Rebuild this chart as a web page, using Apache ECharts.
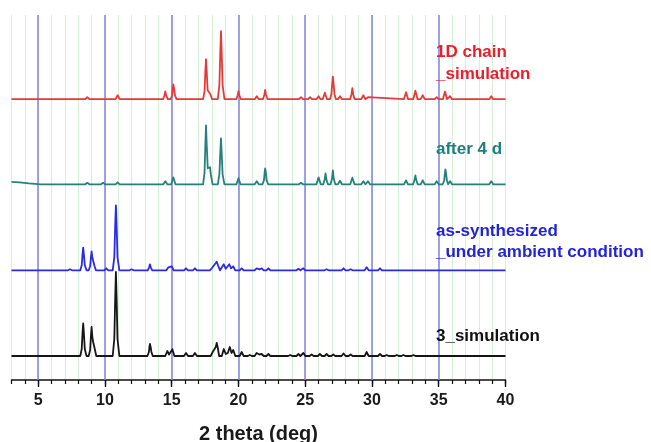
<!DOCTYPE html>
<html><head><meta charset="utf-8">
<script src="https://cdn.jsdelivr.net/npm/echarts@6/dist/echarts.min.js"></script>
<style>html,body{margin:0;padding:0;background:#fff}#c{width:651px;height:442px}</style>
</head><body><div id="c"></div>
<script>
// 2theta ticks
const xMin = 3, xMax = 40;
const majorTicks = [5, 10, 15, 20, 25, 30, 35, 40];
const seriesNames = ['1D chain_simulation', 'after 4 d', 'as-synthesized_under ambient condition', '3_simulation'];
const seriesOffsets = [280.8, 195.7, 109.7, 24];
const seriesColors = ['#e63a3a', '#26807b', '#2a2ae6', '#161616'];

const redData = [[3,0],[8.53,0],[8.68,2],[8.83,0],[10.8,0],[10.95,4],[11.1,0],
[14.35,0],[14.46,4],[14.52,7.7],[14.58,4],[14.7,0],
[14.92,0],[15.03,4],[15.08,11],[15.12,14.7],[15.17,11],[15.24,4],[15.36,0],
[17.35,0],[17.46,8],[17.52,28],[17.57,40],[17.62,28],[17.69,9],[17.75,8],[17.82,10],[17.9,5],[18.02,0],
[18.45,0],[18.57,14],[18.64,48],[18.69,68],[18.74,48],[18.81,14],[18.95,0],
[19.83,0],[19.94,4],[20.0,8],[20.06,4],[20.18,0],
[21.22,0],[21.37,3],[21.52,0],
[21.83,0],[21.94,4.5],[22.0,9.3],[22.06,4.5],[22.18,0],
[24.53,0],[24.68,2],[24.83,0],[25.21,0],[25.36,2],[25.51,0],[25.85,0],[26.0,3],[26.15,0],
[26.31,0],[26.47,6.5],[26.63,0],
[26.85,0],[26.96,5],[27.02,16],[27.07,22.5],[27.12,16],[27.19,5],[27.3,0],
[27.45,0],[27.6,3],[27.75,0],
[28.36,0],[28.47,5],[28.53,11],[28.59,5],[28.7,0],
[29.2,0],[29.35,4],[29.5,0],[29.58,0],[29.7,2],[29.83,0],
[32.39,0],[32.55,7],[32.71,0],[33.09,0],[33.25,8.6],[33.41,0],[33.65,0],[33.8,4],[33.95,0],
[34.7,0],[34.85,2],[35.0,0],[35.31,0],[35.47,7.6],[35.62,0],[35.72,0],[35.85,3],[36.0,0],
[38.78,0],[38.93,3],[39.08,0],[40,0]];

const tealData = [[3,2.5],[3.6,2],[4.3,1],[5.2,0],[8.53,0],[8.68,1.5],[8.83,0],[9.71,0],[9.86,1.5],[10.01,0],
[10.8,0],[10.95,2],[11.1,0],[14.37,0],[14.52,3],[14.67,0],[14.96,0],[15.12,7],[15.28,0],
[17.35,0],[17.46,12],[17.52,40],[17.57,59],[17.62,40],[17.7,16],[17.8,15],[17.87,17],[17.94,9],[18.06,0],
[18.45,0],[18.57,10],[18.64,32],[18.69,46],[18.74,32],[18.81,10],[18.95,0],
[19.85,0],[20.0,6],[20.15,0],[21.22,0],[21.37,3],[21.52,0],
[21.8,0],[21.91,4],[21.96,12],[22.0,16],[22.05,12],[22.11,4],[22.22,0],
[24.53,0],[24.68,1.5],[24.83,0],[25.84,0],[26.0,7],[26.16,0],
[26.35,0],[26.46,5],[26.52,11],[26.58,5],[26.7,0],
[26.9,0],[27.01,6],[27.07,14],[27.13,6],[27.25,0],
[27.45,0],[27.6,3.5],[27.75,0],[28.37,0],[28.53,6.6],[28.69,0],
[29.2,0],[29.35,3],[29.5,0],[29.57,0],[29.7,3],[29.85,0],
[32.4,0],[32.55,4],[32.7,0],[33.08,0],[33.19,4.5],[33.25,9],[33.31,4.5],[33.42,0],
[33.65,0],[33.8,4],[33.95,0],[34.7,0],[34.85,3],[35.0,0],
[35.3,0],[35.41,4],[35.46,11],[35.5,15],[35.55,11],[35.61,4],[35.7,0],
[35.72,0],[35.85,3],[36.0,0],[38.78,0],[38.93,3],[39.08,0],[40,0]];

const blueData = [[3,0],[7.23,0],[7.38,1],[7.53,0],
[8.15,0],[8.26,5],[8.32,16],[8.37,22.7],[8.42,16],[8.49,5],[8.62,0],
[8.78,0],[8.89,4],[8.95,13],[9.0,19],[9.05,13],[9.09,11],[9.13,12],[9.2,5],[9.32,0],
[9.95,0],[10.1,2],[10.25,0],
[10.58,0],[10.7,13],[10.77,46],[10.82,65],[10.87,46],[10.94,13],[11.08,0],
[11.85,0],[12.0,1],[12.15,0],[13.2,0],[13.31,3],[13.37,6],[13.43,3],[13.54,0],
[14.6,0],[14.75,3],[14.87,2],[15.0,4],[15.15,0],[15.92,0],[16.07,2],[16.22,0],[16.59,0],[16.74,2],[16.89,0],
[17.85,0],[18.0,2],[18.17,5],[18.27,6],[18.37,8.6],[18.47,5],[18.62,0],
[18.75,0],[18.9,6],[19.05,1.5],[19.18,1.5],[19.31,6],[19.45,2],[19.61,4],[19.76,0],
[20.09,0],[20.24,2],[20.39,0],[21.21,0],[21.36,2],[21.46,1],[21.56,1],[21.74,2],[21.89,0],
[22.09,0],[22.24,2],[22.39,0],[24.34,0],[24.49,1.5],[24.64,0],[24.71,0],[24.86,2],[25.01,0],
[26.45,0],[26.6,1],[26.75,0],[27.72,0],[27.87,2],[28.02,0],[28.25,0],[28.4,1],[28.55,0],
[29.45,0],[29.6,3],[29.75,0],[30.45,0],[30.6,2],[30.75,0],[40,0]];

const blackData = [[3,0],
[8.15,0],[8.26,7],[8.32,23],[8.37,32.7],[8.42,23],[8.49,7],[8.62,0],
[8.78,0],[8.89,6],[8.95,20],[9.0,29],[9.05,20],[9.1,15],[9.15,17],[9.22,8],[9.35,0],
[10.58,0],[10.7,17],[10.77,59],[10.82,84],[10.87,59],[10.94,17],[11.08,0],
[13.18,0],[13.29,4],[13.33,9],[13.37,12],[13.42,9],[13.48,4],[13.58,0],
[14.52,0],[14.67,5],[14.8,1.5],[14.92,2],[15.05,6.7],[15.2,0],
[15.92,0],[16.07,3],[16.22,0],[16.59,0],[16.74,3],[16.89,0],
[17.92,0],[18.07,4],[18.2,3],[18.3,9],[18.37,13],[18.44,9],[18.55,0],
[18.75,0],[18.9,7],[19.05,2],[19.2,3],[19.35,9],[19.48,3],[19.61,6],[19.76,0],
[20.09,0],[20.24,4],[20.39,0],[20.7,0],[20.85,1],[21.0,0],
[21.21,0],[21.36,3],[21.46,2],[21.56,1.5],[21.74,2],[21.89,0],[22.09,0],[22.24,2],[22.39,0],
[23.72,0],[23.87,1],[24.02,0],[24.34,0],[24.49,2],[24.64,0],[24.71,0],[24.86,3],[25.01,0],
[25.33,0],[25.48,1.5],[25.63,0],[25.95,0],[26.1,2],[26.25,0],[26.45,0],[26.6,2],[26.75,0],
[26.95,0],[27.1,1.5],[27.25,0],[27.72,0],[27.87,2.5],[28.02,0],[28.25,0],[28.4,1.5],[28.55,0],
[29.45,0],[29.6,4],[29.75,0],[30.45,0],[30.6,2],[30.75,0],[30.95,0],[31.1,1],[31.25,0],
[31.71,0],[31.86,1],[32.01,0],[32.2,0],[32.35,1],[32.5,0],[32.95,0],[33.1,1],[33.25,0],[40,0]];

const allData = [redData, tealData, blueData, blackData];

const chart = echarts.init(document.getElementById('c'), null, {renderer: 'canvas'});
const FONT = '"Liberation Sans", Arial, sans-serif';

const series = allData.map((d, i) => ({
  name: seriesNames[i],
  type: 'line',
  xAxisIndex: 0,
  data: d.map(p => [p[0], p[1] + seriesOffsets[i]]),
  showSymbol: false,
  symbol: 'none',
  smooth: false,
  lineStyle: {color: seriesColors[i], width: 1.8, join: 'round'},
  z: 5,
  silent: true
}));
series[3].markLine = {
  silent: true, symbol: 'none', label: {show: false},
  lineStyle: {color: '#8282e2', width: 1.5, type: 'solid'},
  data: majorTicks.slice(0, -1).map(v => ({xAxis: v})),
  z: 2
};

const labelDefs = [
  {text: '1D chain', top: 44, color: '#e8202a'},
  {text: '_simulation', top: 66, color: '#e8202a'},
  {text: 'after 4 d', top: 141, color: '#1f7f7c'},
  {text: 'as-synthesized', top: 223, color: '#2323d8'},
  {text: '_under ambient condition', top: 244, color: '#2323d8'},
  {text: '3_simulation', top: 328, color: '#111111'}
];

chart.setOption({
  animation: false,
  backgroundColor: '#fff',
  grid: {left: 11.5, right: 145.5, top: 15, bottom: 62, containLabel: false, outerBoundsMode: 'none'},
  xAxis: [{
    type: 'value', min: xMin, max: xMax, interval: 1,
    axisLine: {show: true, lineStyle: {color: '#111', width: 1.5}},
    axisTick: {show: true, length: 4, lineStyle: {color: '#111', width: 1.2}},
    splitLine: {show: true, lineStyle: {color: '#d6efd6', width: 1}},
    axisLabel: {
      show: true, color: '#1a1a1a', fontSize: 16, fontWeight: 'bold', fontFamily: FONT, margin: 13,
      formatter: v => (majorTicks.indexOf(v) >= 0 ? String(v) : '')
    },
    name: '2 theta (deg)', nameLocation: 'middle', nameGap: 44,
    nameTextStyle: {color: '#1a1a1a', fontSize: 20, fontWeight: 'bold', fontFamily: FONT}
  }, {
    type: 'value', min: xMin, max: xMax, interval: 1, position: 'bottom',
    axisLine: {show: false},
    axisTick: {show: true, length: 7, customValues: majorTicks, lineStyle: {color: '#111', width: 1.4}},
    axisLabel: {show: false},
    splitLine: {show: false}
  }],
  yAxis: {type: 'value', min: 0, max: 365, show: false, splitLine: {show: false}},
  graphic: labelDefs.map(l => ({
    type: 'text', left: 436, top: l.top, z: 10,
    style: {text: l.text, fill: l.color, font: 'bold 17px ' + FONT}
  })),
  series: series
});
</script>
</body></html>
